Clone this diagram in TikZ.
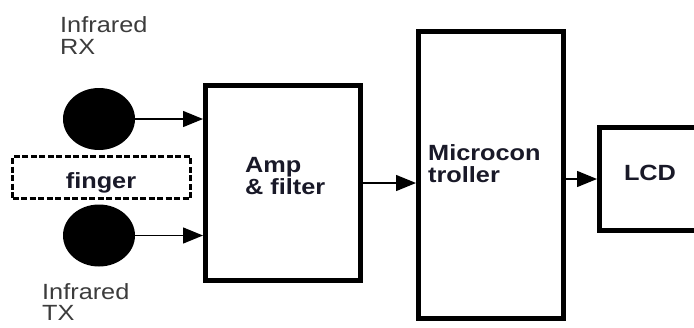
\documentclass[tikz,border=0pt]{standalone}
\usepackage{fontspec}
\setmainfont[FakeStretch=1.15]{Liberation Sans}
\usetikzlibrary{arrows.meta,shapes.geometric}
\definecolor{txtdark}{RGB}{25,25,40}
\definecolor{txtgray}{RGB}{60,60,60}
\begin{document}
\begin{tikzpicture}[x=1pt,y=-1pt,
  blk/.style={draw=black, line width=5pt, inner sep=0pt, fill=white},
  sensor/.style={ellipse, fill=black, minimum width=72pt, minimum height=62pt, inner sep=0pt},
  arr/.style={line width=1.4pt, -{Triangle[length=20pt,width=16pt]}},
  lbl/.style={font=\fontsize{22}{22}\selectfont, text=txtgray, align=left, inner sep=0pt, anchor=north west},
  blbl/.style={font=\fontsize{22}{22}\selectfont\bfseries, text=txtdark, align=left, inner sep=0pt},
  dashbox/.style={draw=black, line width=3pt, dash pattern=on 6pt off 2.5pt, inner sep=0pt}
]
\useasboundingbox (0,0) rectangle (694,327);
\clip (0,0) rectangle (694,327);
% blocks
\node[blk, minimum width=155pt, minimum height=195pt] (amp) at (283,183) {};
\node[blk, minimum width=145pt, minimum height=287pt] (mcu) at (491,175) {};
\node[blk, minimum width=101pt, minimum height=103pt] (lcd) at (650,179) {};
\node[dashbox, minimum width=178pt, minimum height=42pt] (finger) at (101.5,177.5) {};
% sensors
\node[sensor] (rx) at (99,119) {};
\node[sensor] (tx) at (99,235.5) {};
% texts
\node[lbl] (rxlbl) at (60,16) {Infrared\\RX};
\node[lbl, font=\fontsize{22}{21}\selectfont] (txlbl) at (42,283) {Infrared\\TX};
\node[blbl, anchor=north west] (amptxt) at (245,157.3) {Amp\\\& filter};
\node[blbl, anchor=north west] (mcutxt) at (428,144.3) {Microcon\\troller};
\node[blbl, anchor=base] (lcdtxt) at (650,180) {LCD};
\node[blbl, anchor=base] (fingertxt) at (101,188) {finger};
% connectors
\draw[arr] (rx.east) -- (rx.east -| amp.west);
\draw[arr] (tx.east) -- (tx.east -| amp.west);
\draw[arr] (amp.east) -- (amp.east -| mcu.west);
\draw[arr] (lcd.west -| mcu.east) -- (lcd.west);
\end{tikzpicture}
\end{document}
